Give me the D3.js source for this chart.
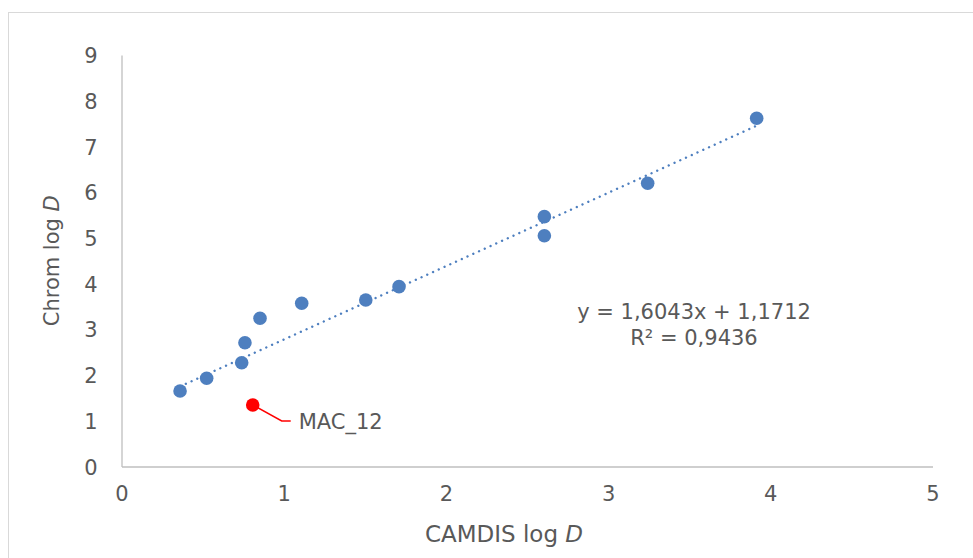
<!DOCTYPE html>
<html><head><meta charset="utf-8">
<script src="https://cdn.jsdelivr.net/npm/d3@7"></script>
<style>html,body{margin:0;padding:0;background:#fff;} svg{display:block;font-family:"DejaVu Sans",Verdana,sans-serif;}</style>
</head><body>
<svg id="chart" width="973" height="558"></svg>
<script>
const xTicks = [0, 1, 2, 3, 4, 5];
const yTicks = [0, 1, 2, 3, 4, 5, 6, 7, 8, 9];
const camdisLogD = [0.361, 0.525, 0.741, 0.761, 0.854, 1.111, 1.506, 1.711, 2.607, 2.607, 3.244, 3.916];
const chromLogD  = [1.651, 1.929, 2.270, 2.708, 3.241, 3.570, 3.642, 3.933, 5.464, 5.048, 6.194, 7.616];
const outlierX = [0.809];
const outlierY = [1.345];
const outlierLabel = ["MAC_12"];
const trendSlope = 1.6043;
const trendIntercept = 1.1712;
const equationLines = ["y = 1,6043x + 1,1712", "R² = 0,9436"];
const xTitle = "CAMDIS log ";
const yTitle = "Chrom log ";

const svg = d3.select("#chart");
const textColor = "#595959";
const axisColor = "#bfbfbf";
const blue = "#4e7fbf";

svg.append("rect").attr("x", 8.5).attr("y", 12.5).attr("width", 1000).attr("height", 600)
  .attr("fill", "#fff").attr("stroke", "#d9d9d9").attr("stroke-width", 1);

const x = d3.scaleLinear().domain([0, 5]).range([121.5, 932.5]);
const y = d3.scaleLinear().domain([0, 9]).range([466.5, 55]);

// axes
const gx = svg.append("g").attr("transform", `translate(0,${y(0)})`)
  .call(d3.axisBottom(x).tickValues(xTicks).tickSize(0).tickFormat(d3.format("d")));
gx.select(".domain").attr("stroke", axisColor).attr("stroke-width", 1.3);
gx.selectAll("text").attr("y", 0).attr("dy", 0).attr("transform", "translate(0,34)")
  .attr("fill", textColor).style("font-size", "21px").style("font-family", "DejaVu Sans");

const gy = svg.append("g").attr("transform", `translate(${x(0)},0)`)
  .call(d3.axisLeft(y).tickValues(yTicks).tickSize(0).tickFormat(d3.format("d")));
gy.select(".domain").attr("stroke", axisColor).attr("stroke-width", 1.3);
gy.selectAll("text").attr("x", -24).attr("dy", "0.36em")
  .attr("fill", textColor).style("font-size", "21px").style("font-family", "DejaVu Sans");

// titles
const xt = svg.append("text").attr("x", 504).attr("y", 542).attr("text-anchor", "middle")
  .attr("fill", textColor).style("font-size", "23px");
xt.append("tspan").text(xTitle);
xt.append("tspan").attr("font-style", "italic").text("D");

const yt = svg.append("text").attr("transform", `translate(59,${(y(0) + y(9)) / 2}) rotate(-90)`)
  .attr("text-anchor", "middle").attr("fill", textColor).style("font-size", "21px");
yt.append("tspan").text(yTitle);
yt.append("tspan").attr("font-style", "italic").text("D");

// trendline
const xMin = d3.min(camdisLogD), xMax = d3.max(camdisLogD);
svg.append("line")
  .attr("x1", x(xMin)).attr("y1", y(trendSlope * xMin + trendIntercept))
  .attr("x2", x(xMax)).attr("y2", y(trendSlope * xMax + trendIntercept))
  .attr("stroke", blue).attr("stroke-width", 2.4).attr("stroke-linecap", "round")
  .attr("stroke-dasharray", "0.01 6.3");

// points
svg.append("g").selectAll("circle").data(camdisLogD.map((d, i) => [d, chromLogD[i]]))
  .join("circle").attr("cx", d => x(d[0])).attr("cy", d => y(d[1])).attr("r", 6.8)
  .attr("fill", blue);

// outlier + leader
outlierX.forEach((ox, i) => {
  const px = x(ox), py = y(outlierY[i]);
  svg.append("polyline")
    .attr("points", `${px},${py} ${px + 29},${py + 16} ${px + 38},${py + 16}`)
    .attr("fill", "none").attr("stroke", "#ff0000").attr("stroke-width", 1.5);
  svg.append("circle").attr("cx", px).attr("cy", py).attr("r", 6.8).attr("fill", "#ff0000");
  svg.append("text").attr("x", px + 46).attr("y", py + 23.5).attr("fill", textColor)
    .style("font-size", "21px").text(outlierLabel[i]);
});

// equation
equationLines.forEach((t, i) => {
  svg.append("text").attr("x", 694).attr("y", 318.5 + i * 26.5).attr("text-anchor", "middle")
    .attr("fill", textColor).style("font-size", "21px").text(t);
});
</script>
</body></html>
